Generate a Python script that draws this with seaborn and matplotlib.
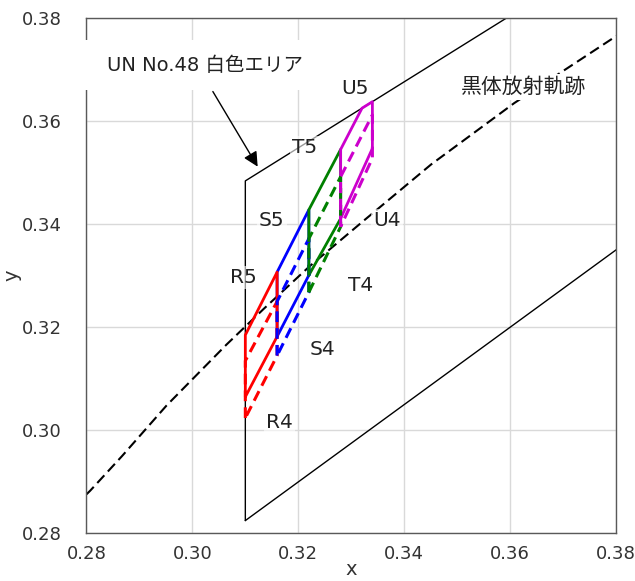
import numpy as np
import pandas as pd
import matplotlib
matplotlib.use("Agg")
import matplotlib.pyplot as plt
from matplotlib.patches import Rectangle
import seaborn as sns

# ---------------- data ----------------
# Planckian (black-body) locus, CIE 1931 x, y
bb_x = [0.2800, 0.2807, 0.2867, 0.2951, 0.3064, 0.3135, 0.3221, 0.3325, 0.3451, 0.3608, 0.3805]
bb_y = [0.2876, 0.2883, 0.2950, 0.3048, 0.3166, 0.3236, 0.3318, 0.3408, 0.3516, 0.3635, 0.3768]

# UN ECE No.48 white area boundary vertices
white_x = [0.310, 0.310, 0.453, 0.500, 0.500, 0.310]
white_y = [0.2825, 0.3484, 0.4400, 0.4400, 0.4250, 0.2825]
upper_a, upper_b = 0.150, 0.640   # y <= 0.150 + 0.640 x

# colour rank bins
ranks = ["R", "S", "T", "U"]
rank_colors = ["#ff0000", "#0000ff", "#008000", "#cc00cc"]
edge_x = [0.310, 0.316, 0.322, 0.328, 0.334]
top5 = [0.3185, 0.3307, 0.3428, 0.3545, 0.3664]
bot5 = [0.3065, 0.3182, 0.3301, 0.3411, 0.3547]
top4 = [0.3135, 0.3250, 0.3372, 0.3492, 0.3612]
bot4 = [0.3024, 0.3145, 0.3268, 0.3395, 0.3528]

# labels
rank_labels = ["R5", "S5", "T5", "U5", "R4", "S4", "T4", "U4"]
label_x = [0.3097, 0.3150, 0.3211, 0.3307, 0.3165, 0.3245, 0.3317, 0.3368]
label_y = [0.3296, 0.3408, 0.3548, 0.3664, 0.3016, 0.3156, 0.3282, 0.3408]

# ---------------- style ----------------
sns.set_theme(style="whitegrid")
plt.rcParams["font.family"] = ["DejaVu Sans", "Noto Sans CJK JP"]
plt.rcParams["axes.edgecolor"] = "#595959"
plt.rcParams["grid.color"] = "#d9d9d9"

fig, ax = plt.subplots(figsize=(6.35, 5.81), dpi=100)
fig.subplots_adjust(left=0.1362, right=0.970, top=0.969, bottom=0.0818)

# white area
sns.lineplot(x=white_x, y=white_y, sort=False, estimator=None, ax=ax,
             color="black", linewidth=1.0, zorder=2)

# black-body locus
sns.lineplot(x=bb_x, y=bb_y, sort=False, estimator=None, ax=ax,
             color="black", linewidth=1.5, linestyle=(0, (5, 2.5)), zorder=2)


def bin_polygon(i, top, bot, clip):
    xl, xr = edge_x[i], edge_x[i + 1]
    xs = [xl, xl]
    ys = [bot[i], top[i]]
    ytr = top[i + 1]
    lim_r = upper_a + upper_b * xr
    if clip and ytr > lim_r:
        slope = (top[i + 1] - top[i]) / (xr - xl)
        xc = (top[i] - slope * xl - upper_a) / (upper_b - slope)
        xs.append(xc)
        ys.append(upper_a + upper_b * xc)
        ytr = lim_r
    xs += [xr, xr, xl]
    ys += [ytr, bot[i + 1], bot[i]]
    return xs, ys


# solid (rank 5) outlines
for i in [1, 0, 2, 3]:
    xs, ys = bin_polygon(i, top5, bot5, True)
    sns.lineplot(x=xs, y=ys, sort=False, estimator=None, ax=ax, color=rank_colors[i],
                 linewidth=2.0, zorder=3)
# dashed (rank 4) outlines
for i in [0, 1, 2, 3]:
    xs, ys = bin_polygon(i, top4, bot4, False)
    sns.lineplot(x=xs, y=ys, sort=False, estimator=None, ax=ax, color=rank_colors[i],
                 linewidth=2.2, linestyle=(0, (3.5, 2.0)), zorder=3.2)

for t, lx, ly in zip(rank_labels, label_x, label_y):
    ax.text(lx, ly, t, fontsize=14.5, ha="center", va="center", color="#222222",
            zorder=4, bbox=dict(boxstyle="square,pad=0.1", fc="white", ec="none", alpha=0.6))

ax.text(0.3626, 0.3666, "黒体放射軌跡", fontsize=15, ha="center", va="center",
        color="#222222", zorder=4,
        bbox=dict(boxstyle="square,pad=0.15", fc="white", ec="none"))

# white text box of the callout (covers grid and the left frame)
ax.add_patch(Rectangle((-0.013, 0.860), 0.445, 0.098, transform=ax.transAxes,
                       facecolor="white", edgecolor="none", zorder=3.8, clip_on=False))
ax.text(0.3024, 0.3707, "UN No.48 白色エリア", fontsize=14, ha="center", va="center",
        color="#222222", zorder=4)
ax.annotate("", xy=(0.3126, 0.3507), xytext=(0.3036, 0.3662),
            arrowprops=dict(arrowstyle="-|>", color="black", lw=1.0, mutation_scale=22),
            zorder=4)

ax.set_xlim(0.28, 0.38)
ax.set_ylim(0.28, 0.38)
ax.set_xticks(np.arange(0.28, 0.3801, 0.02))
ax.set_yticks(np.arange(0.28, 0.3801, 0.02))
ax.xaxis.set_major_formatter(matplotlib.ticker.FormatStrFormatter("%.2f"))
ax.yaxis.set_major_formatter(matplotlib.ticker.FormatStrFormatter("%.2f"))
ax.tick_params(axis="both", labelsize=13, colors="#333333", length=0)
ax.tick_params(axis="x", pad=8)
ax.tick_params(axis="y", pad=18)
ax.set_xlabel("x", fontsize=14, color="#333333", labelpad=-2)
ax.set_ylabel("y", fontsize=14, color="#333333", labelpad=0)
for s in ax.spines.values():
    s.set_color("#595959")
    s.set_linewidth(1.0)
ax.grid(True, color="#d9d9d9", linewidth=1.0)

fig.savefig("out.png", dpi=100)
